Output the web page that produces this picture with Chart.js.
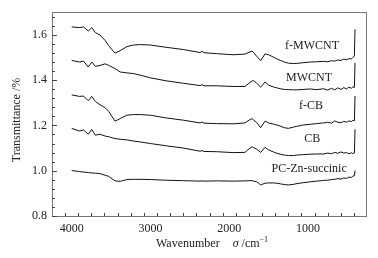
<!DOCTYPE html>
<html>
<head>
<meta charset="utf-8">
<script src="https://cdn.jsdelivr.net/npm/chart.js@4"></script>
<style>
  html,body{margin:0;padding:0;background:#fff;}
  #ftir{display:block;}
</style>
</head>
<body>
<canvas id="ftir" width="378" height="258"></canvas>
<script>
// wavenumber grid (cm-1)
const wavenumbers=[4000,3900,3850,3790,3745,3700,3640,3575,3530,3450,3385,3300,3215,3130,3000,2800,2580,2370,2345,2320,2160,1950,1800,1735,1710,1690,1650,1600,1545,1500,1440,1395,1350,1300,1250,1180,1140,1060,970,890,800,750,700,660,620,580,545,510,480,450,430,410,402];

const fMWCNT=[1.635,1.632,1.635,1.617,1.632,1.610,1.599,1.575,1.552,1.519,1.530,1.548,1.555,1.557,1.555,1.545,1.535,1.522,1.527,1.521,1.517,1.512,1.515,1.525,1.528,1.522,1.505,1.486,1.516,1.512,1.502,1.494,1.487,1.480,1.475,1.473,1.474,1.477,1.480,1.481,1.483,1.481,1.486,1.484,1.489,1.487,1.493,1.490,1.495,1.493,1.500,1.507,1.625];
const MWCNT=[1.487,1.480,1.484,1.458,1.480,1.461,1.465,1.472,1.465,1.451,1.436,1.432,1.429,1.422,1.410,1.397,1.386,1.376,1.380,1.375,1.375,1.372,1.372,1.390,1.396,1.398,1.386,1.369,1.392,1.378,1.370,1.366,1.362,1.359,1.358,1.357,1.357,1.359,1.361,1.358,1.362,1.356,1.364,1.357,1.366,1.359,1.367,1.361,1.369,1.364,1.370,1.368,1.476];
const fCB=[1.335,1.328,1.330,1.309,1.328,1.306,1.291,1.278,1.262,1.219,1.230,1.245,1.248,1.248,1.245,1.233,1.223,1.211,1.215,1.210,1.208,1.207,1.211,1.226,1.230,1.224,1.212,1.190,1.219,1.211,1.206,1.202,1.197,1.190,1.187,1.193,1.196,1.202,1.205,1.208,1.211,1.214,1.210,1.220,1.214,1.212,1.218,1.214,1.220,1.217,1.222,1.221,1.330];
const CB=[1.187,1.175,1.180,1.161,1.182,1.157,1.161,1.153,1.150,1.142,1.139,1.136,1.131,1.127,1.120,1.110,1.100,1.086,1.089,1.085,1.084,1.080,1.081,1.100,1.106,1.102,1.095,1.081,1.103,1.092,1.083,1.077,1.073,1.069,1.067,1.067,1.069,1.071,1.073,1.074,1.074,1.078,1.075,1.081,1.077,1.083,1.078,1.080,1.075,1.079,1.076,1.078,1.183];
const PCZn=[1.001,0.996,0.994,0.992,0.990,0.989,0.987,0.980,0.975,0.955,0.953,0.961,0.962,0.962,0.961,0.958,0.956,0.954,0.955,0.954,0.955,0.954,0.955,0.956,0.956,0.954,0.951,0.937,0.945,0.946,0.946,0.945,0.942,0.939,0.937,0.940,0.943,0.947,0.951,0.954,0.957,0.958,0.961,0.962,0.965,0.963,0.968,0.966,0.972,0.970,0.976,0.978,1.001];

const seriesNames=['f-MWCNT','MWCNT','f-CB','CB','PC-Zn-succinic'];
const seriesValues=[fMWCNT,MWCNT,fCB,CB,PCZn];
// where each curve's name sits (wavenumber, transmittance)
const nameX=[947,985,960,945,985];
const nameY=[1.550,1.412,1.285,1.140,1.010];

const xTicks=[1000,2000,3000,4000];
const yTicks=[0.8,1.0,1.2,1.4,1.6];

const serif='"Liberation Serif", "DejaVu Serif", serif';

//frame, inward ticks, titles and curve names
const decor={
  id:'decor',
  afterDraw(chart){
    const c=chart.ctx, a=chart.chartArea;
    const xs=chart.scales.x, ys=chart.scales.y;
    c.save();
    c.strokeStyle='#777';
    c.lineWidth=1;
    c.strokeRect(Math.round(a.left)+0.5,Math.round(a.top)+0.5,Math.round(a.right-a.left)-1,Math.round(a.bottom-a.top));
    c.strokeStyle='#444';
    c.beginPath();
    for(let k=0;k<=25;k++){
      let w=250+k*1000/6;
      let px=Math.round(xs.getPixelForValue(w))+0.5;
      if(px<=a.left+1||px>=a.right-1)continue;
      let major=Math.abs(w/1000-Math.round(w/1000))<1e-6;
      c.moveTo(px,a.bottom);c.lineTo(px,a.bottom-(major?5:3));
    }
    for(let k=0;k<=22;k++){
      let v=0.8+k*0.04;
      let py=Math.round(ys.getPixelForValue(v))+0.5;
      if(py<a.top+1)continue;
      let major=Math.abs(v*5-Math.round(v*5))<1e-6;
      c.moveTo(a.left,py);c.lineTo(a.left+(major?5:3),py);
    }
    c.stroke();

    c.fillStyle='#222';
    c.font='12px '+serif;
    c.textAlign='center';c.textBaseline='middle';
    seriesNames.forEach((n,i)=>{
      c.fillText(n,xs.getPixelForValue(nameX[i]),ys.getPixelForValue(nameY[i]));
    });

    // x title
    c.textAlign='left';
    c.textBaseline='alphabetic';
    let x=156, y=247;
    c.font='12px '+serif;
    c.fillText('Wavenumber',x,y);
    x+=c.measureText('Wavenumber').width+13;
    c.font='italic 12px '+serif;
    c.fillText('σ',x,y);
    x+=c.measureText('σ').width;
    c.font='12px '+serif;
    c.fillText(' /cm',x,y);
    x+=c.measureText(' /cm').width;
    c.font='8px '+serif;
    c.fillText('−1',x,y-5);

    // y title
    c.translate(17,120);
    c.rotate(-Math.PI/2);
    c.textAlign='center';c.textBaseline='middle';
    c.font='12px '+serif;
    c.fillText('Transmittance /%',0,0);
    c.restore();
  }
};

const ctx=document.getElementById('ftir').getContext('2d');
new Chart(ctx,{
  type:'line',
  data:{
    datasets:seriesValues.map((vals,i)=>({
      label:seriesNames[i],
      data:wavenumbers.map((w,j)=>({x:w,y:vals[j]})),
      borderColor:'#111',
      borderWidth:1,
      pointRadius:0,
      fill:false,
      tension:0
    }))
  },
  options:{
    responsive:false,
    animation:false,
    devicePixelRatio:1,
    layout:{padding:{top:8,right:11,left:0,bottom:0}},
    plugins:{legend:{display:false},tooltip:{enabled:false}},
    scales:{
      x:{
        type:'linear',
        reverse:true,
        min:250,max:4250,
        grid:{display:false,drawTicks:false},
        border:{display:false},
        afterBuildTicks:s=>{s.ticks=xTicks.map(v=>({value:v}));},
        afterFit:s=>{s.height=42;},
        ticks:{padding:6,color:'#222',font:{family:serif,size:12},maxRotation:0,callback:v=>String(v)}
      },
      y:{
        min:0.8,max:1.7,
        grid:{display:false,drawTicks:false},
        border:{display:false},
        afterBuildTicks:s=>{s.ticks=yTicks.map(v=>({value:v}));},
        afterFit:s=>{s.width=52;},
        ticks:{padding:5,color:'#222',font:{family:serif,size:12},callback:v=>v.toFixed(1)}
      }
    }
  },
  plugins:[decor]
});
</script>
</body>
</html>
